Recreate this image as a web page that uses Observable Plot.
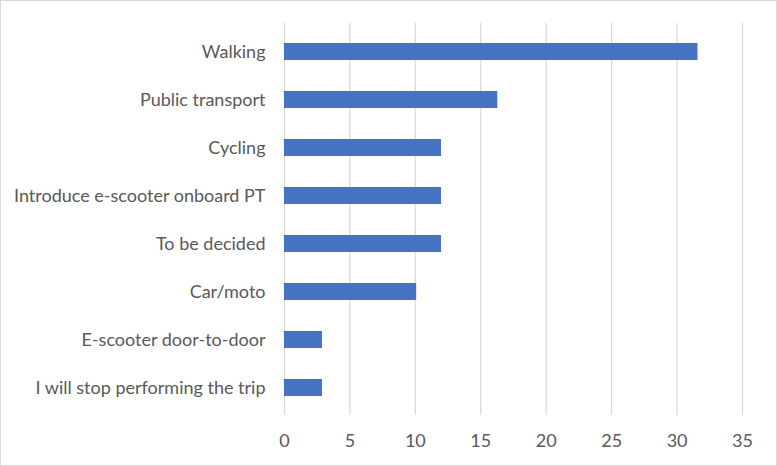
<!DOCTYPE html>
<html>
<head>
<meta charset="utf-8">
<script src="https://cdn.jsdelivr.net/npm/d3@7"></script>
<script src="https://cdn.jsdelivr.net/npm/@observablehq/plot@0.6"></script>
<style>
  html, body { margin: 0; padding: 0; background: #fff; }
  #frame { width: 777px; height: 466px; box-sizing: border-box; border: 1px solid #d9d9d9; overflow: hidden; }
  #frame svg { display: block; }
</style>
</head>
<body>
<div id="frame"></div>
<script>
const categories = [
  "Walking",
  "Public transport",
  "Cycling",
  "Introduce e-scooter onboard PT",
  "To be decided",
  "Car/moto",
  "E-scooter door-to-door",
  "I will stop performing the trip"
];
const values = [31.6, 16.3, 12.0, 12.0, 12.0, 10.1, 2.9, 2.9];
const xTicks = [0, 5, 10, 15, 20, 25, 30, 35];

const data = categories.map((c, i) => ({category: c, value: values[i]}));

const chart = Plot.plot({
  width: 775,
  height: 464,
  marginLeft: 283,
  marginRight: 34,
  marginTop: 22,
  marginBottom: 50,
  style: {fontFamily: "Lato, 'Open Sans', sans-serif", fontSize: "18px", color: "#595959", background: "#fff"},
  x: {domain: [0, 35]},
  y: {domain: categories, paddingInner: 0.653, paddingOuter: 0.327},
  marks: [
    Plot.gridX(xTicks, {stroke: "#d9d9d9", strokeOpacity: 1, strokeWidth: 1.3}),
    Plot.barX(data, {x: "value", y: "category", fill: "#4472c4"}),
    Plot.axisX({ticks: xTicks, tickSize: 0, tickPadding: 19, fontSize: 18, label: null}),
    Plot.axisY({tickSize: 0, tickPadding: 19, fontSize: 18, label: null})
  ]
});
document.getElementById("frame").appendChild(chart);
</script>
</body>
</html>
